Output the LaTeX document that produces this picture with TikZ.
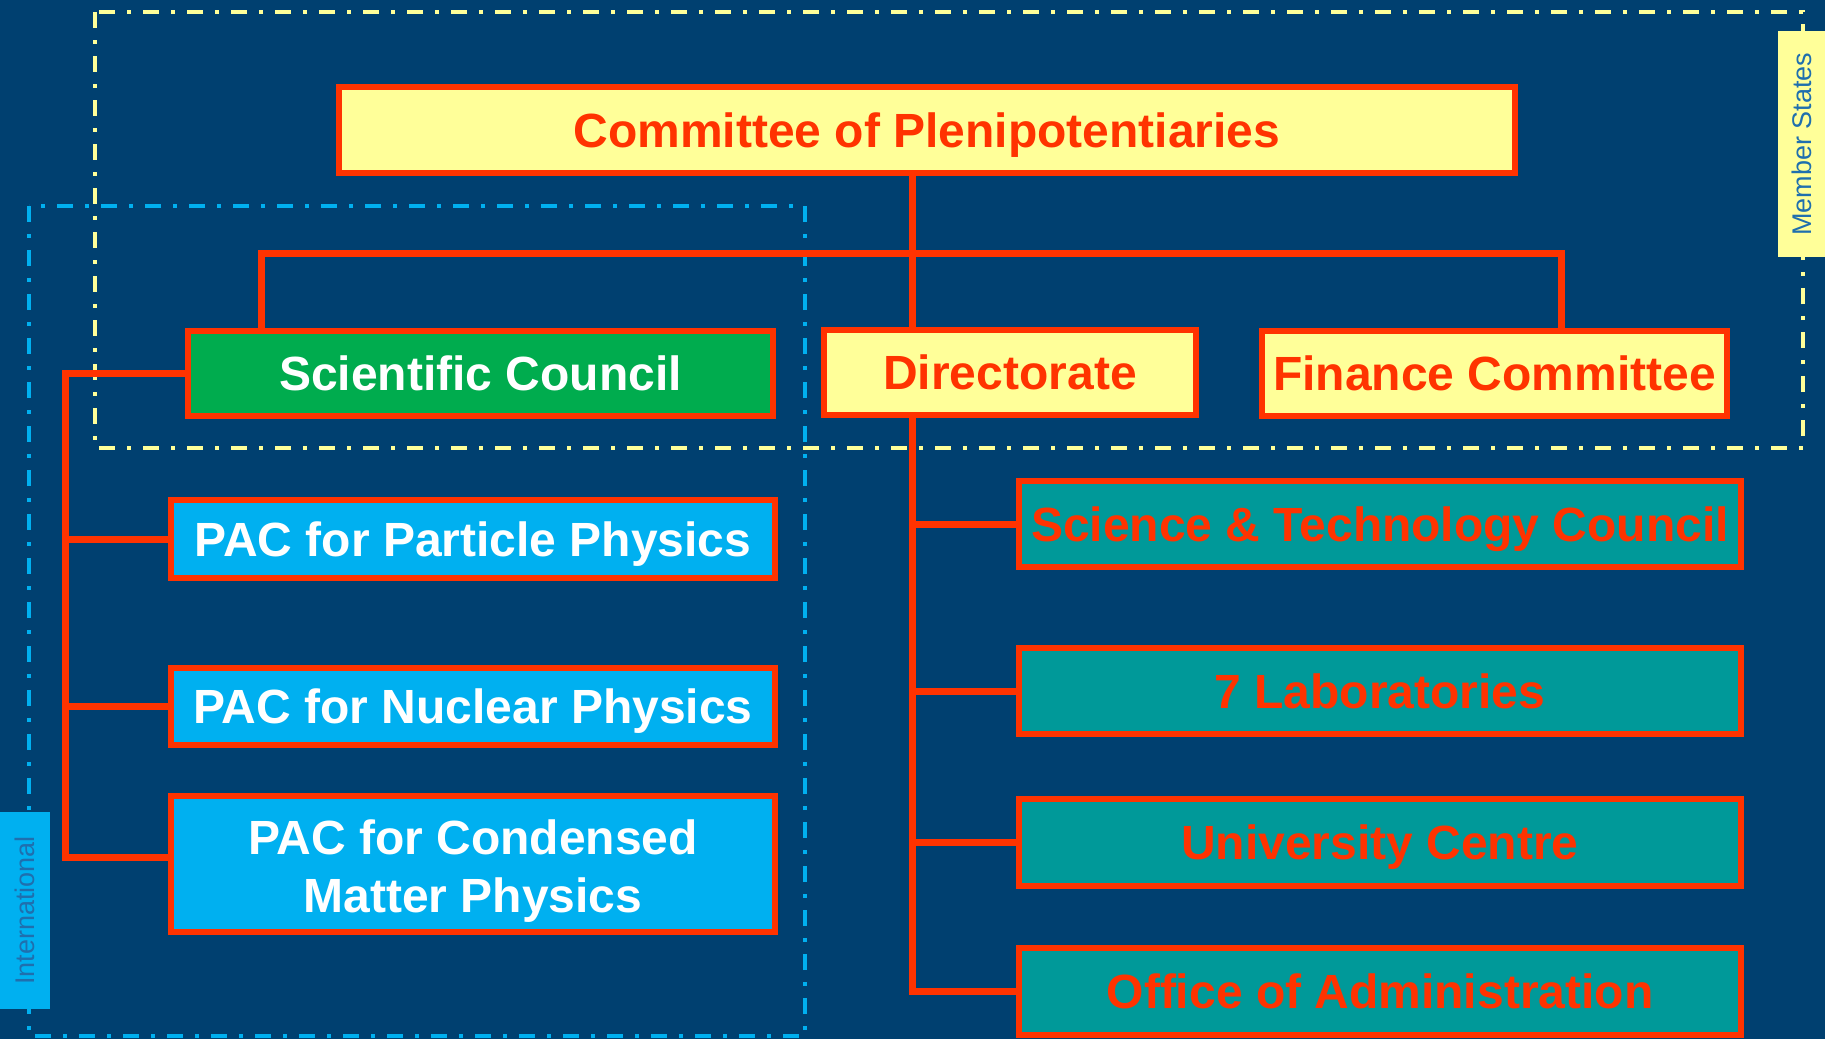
\documentclass[tikz,border=0pt]{standalone}
\usepackage{fontspec}
\setmainfont{Liberation Sans}
\definecolor{bgblue}{HTML}{004070}
\definecolor{boxyellow}{HTML}{FFFF99}
\definecolor{boxred}{HTML}{FF3300}
\definecolor{boxgreen}{HTML}{00AC4E}
\definecolor{boxcyan}{HTML}{00B0F0}
\definecolor{boxteal}{HTML}{009999}
\definecolor{tagblue}{HTML}{1F6FAE}
\tikzset{
  unit/.style={draw=boxred, line width=6pt, inner sep=0pt, align=center,
    text height=34pt, text depth=0pt,
    font=\bfseries\fontsize{48}{58}\selectfont},
  topunit/.style={unit, fill=boxyellow, text=boxred},
  pacunit/.style={unit, fill=boxcyan, text=white},
  labunit/.style={unit, fill=boxteal, text=boxred},
  link/.style={boxred, line width=7pt},
  frame/.style={line width=4pt, dash pattern=on 16pt off 12pt on 4pt off 12pt},
  tag/.style={rotate=90, inner sep=0pt, font=\fontsize{27}{30}\selectfont, text=tagblue}
}
\begin{document}
\begin{tikzpicture}[x=1pt,y=-1pt]
    \fill[bgblue] (0,0) rectangle (1825,1039);
    \useasboundingbox (0,0) rectangle (1825,1039);
    % frames
    \draw[frame, boxyellow] (95,12) rectangle (1803,448);
    \draw[frame, boxcyan] (29,206) rectangle (805,1036);
    \node[tag, fill=boxyellow, minimum width=226, minimum height=47] (members) at (1801.5,144) {Member States};
    \node[tag, fill=boxcyan, minimum width=197, minimum height=50] (intl) at (25,910.5) {International};
    % governing bodies
    \node[topunit, minimum width=1176, minimum height=86] (plenip) at (927,130) {Committee of Plenipotentiaries};
    \node[unit, fill=boxgreen, text=white, minimum width=585, minimum height=85] (council) at (480.5,373.5) {Scientific Council};
    \node[topunit, minimum width=372, minimum height=85] (director) at (1010,372.5) {Directorate};
    \node[topunit, minimum width=465, minimum height=85] (finance) at (1494.5,373.5) {Finance Committee};
    % programme advisory committees
    \node[pacunit, minimum width=604, minimum height=78] (pacpart) at (473,539) {PAC for Particle Physics};
    \node[pacunit, minimum width=604, minimum height=77] (pacnucl) at (473,706) {PAC for Nuclear Physics};
    \node[pacunit, text height={}, text depth={}, minimum width=604, minimum height=136] (paccond) at (473,864) {\rule{0pt}{48pt}PAC for Condensed\\Matter Physics};
    % under the directorate
    \node[labunit, minimum width=722, minimum height=86] (stc) at (1380,524) {Science \& Technology Council};
    \node[labunit, minimum width=722, minimum height=86] (labs) at (1380,691) {7 Laboratories};
    \node[labunit, minimum width=722, minimum height=87] (univ) at (1380,842.5) {University Centre};
    \node[labunit, minimum width=722, minimum height=87] (admin) at (1380,991.5) {Office of Administration};
    % connectors
    \coordinate (trunk) at (912,253);
    \coordinate (barL) at (261,253);
    \coordinate (barR) at (1561,253);
    \coordinate (spine) at (65,0);
    \draw[link] (plenip.south -| trunk) -- (director.north -| trunk);
    \draw[link] (council.north -| barL) -- (barL) -- (barR) -- (finance.north -| barR);
    \draw[link] (council.west) -- (council.west -| spine) |- ([yshift=7pt]paccond.west);
    \draw[link] (pacpart.west -| spine) -- (pacpart.west);
    \draw[link] (pacnucl.west -| spine) -- (pacnucl.west);
    \draw[link] (director.south -| trunk) |- (admin.west);
    \draw[link] (stc.west -| trunk) -- (stc.west);
    \draw[link] (labs.west -| trunk) -- (labs.west);
    \draw[link] (univ.west -| trunk) -- (univ.west);
\end{tikzpicture}
\end{document}
